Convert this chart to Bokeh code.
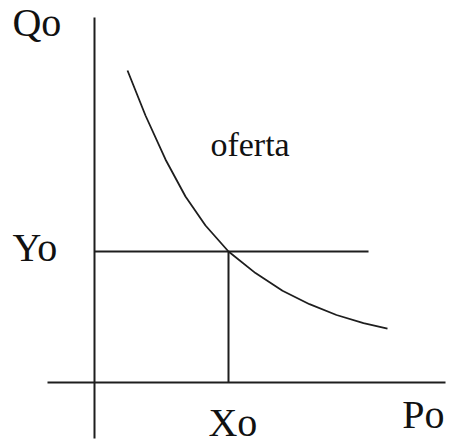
from bokeh.plotting import figure
from bokeh.embed import file_html
from bokeh.resources import INLINE
from bokeh.core.properties import value
from bokeh.models import ColumnDataSource

# Supply curve ("oferta"), arbitrary units
curve_x = [0.985, 1.522, 2.119, 2.716, 3.313, 4.0, 4.806, 5.612, 6.418, 7.224, 8.030, 8.746]
curve_y = [9.313, 7.970, 6.657, 5.552, 4.687, 3.910, 3.266, 2.740, 2.337, 2.015, 1.773, 1.609]

# Equilibrium point
x0 = 4.0
y0 = 3.91

# Axis extents (cross-shaped axes)
vaxis_y = [-1.672, 10.896]
haxis_x = [-1.403, 10.478]
yo_line_end = 8.18

# Labels
label_text = ["Qo", "Yo", "Xo", "Po"]
label_x = [-2.45, -2.45, 3.40, 9.19]
label_y = [10.75, 4.03, -1.19, -0.96]
curve_label = "oferta"
curve_label_x = 3.46
curve_label_y = 7.10

p = figure(width=449, height=445, output_backend="svg", toolbar_location=None,
           x_range=(-2.806, 10.597), y_range=(-1.881, 11.403),
           min_border=0, min_border_left=0, min_border_right=0,
           min_border_top=0, min_border_bottom=0)
p.axis.visible = False
p.grid.visible = False
p.outline_line_color = None
p.background_fill_color = "white"
p.border_fill_color = "white"

line_col = "#1e1e1e"
# axes
p.line([0, 0], vaxis_y, line_color=line_col, line_width=2)
p.line(haxis_x, [0, 0], line_color=line_col, line_width=2)
# guide lines
p.line([0, yo_line_end], [y0, y0], line_color=line_col, line_width=2)
p.line([x0, x0], [0, y0], line_color=line_col, line_width=2)
# curve
p.line(curve_x, curve_y, line_color=line_col, line_width=1.8)

src = ColumnDataSource(dict(x=label_x, y=label_y, t=label_text))
p.text(x="x", y="y", text="t", source=src, text_font=value("Liberation Serif"),
       text_font_size="40px", text_color="#111111", text_baseline="alphabetic",
       text_align="left")
p.text(x=[curve_label_x], y=[curve_label_y], text=[curve_label],
       text_font=value("Liberation Serif"), text_font_size="34px",
       text_color="#111111", text_baseline="alphabetic", text_align="left")

open("out.html", "w").write(file_html(p, INLINE))
